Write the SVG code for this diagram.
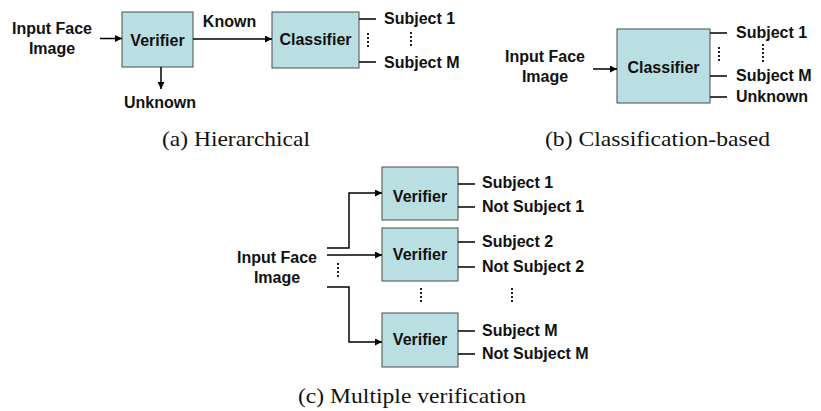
<svg xmlns="http://www.w3.org/2000/svg" width="821" height="411" viewBox="0 0 821 411">
  <defs>
    <marker id="arrow" viewBox="0 0 10 10" refX="10" refY="5" markerWidth="7" markerHeight="7" markerUnits="userSpaceOnUse" orient="auto">
      <path d="M0,0 L10,5 L0,10 z" fill="#000"/>
    </marker>
    <style>
      .box { fill: #b9dfe2; stroke: #4a4a4a; stroke-width: 1; }
      .lbl { font-family: "Liberation Sans", Arial, sans-serif; font-weight: bold; font-size: 16px; fill: #111; }
      .mid { text-anchor: middle; }
      .cap { font-family: "Liberation Serif", "Times New Roman", serif; font-size: 22px; fill: #111; }
      .wire { fill: none; stroke: #000; stroke-width: 1.5; }
      .arr { marker-end: url(#arrow); }
      .dots { fill: none; stroke: #222; stroke-width: 2; stroke-dasharray: 2 2; }
    </style>
  </defs>
  <rect width="821" height="411" fill="#fff"/>

  <!-- (a) Hierarchical -->
  <g id="a-input">
    <text class="lbl mid" x="52" y="33.5">Input Face</text>
    <text class="lbl mid" x="52" y="53.5">Image</text>
  </g>
  <g id="a-verifier">
    <rect class="box" x="122" y="12" width="71" height="55"/>
    <text class="lbl mid" x="157.5" y="46">Verifier</text>
  </g>
  <g id="a-known">
    <text class="lbl mid" x="229.5" y="27">Known</text>
  </g>
  <g id="a-unknown">
    <text class="lbl mid" x="160" y="108">Unknown</text>
  </g>
  <g id="a-classifier">
    <rect class="box" x="272" y="12" width="87" height="56"/>
    <text class="lbl mid" x="315.5" y="44.5">Classifier</text>
  </g>
  <g id="a-outputs">
    <text class="lbl" x="384" y="24">Subject 1</text>
    <text class="lbl" x="384" y="68">Subject M</text>
  </g>

  <!-- (b) Classification-based -->
  <g id="b-input">
    <text class="lbl mid" x="545" y="62">Input Face</text>
    <text class="lbl mid" x="545" y="82">Image</text>
  </g>
  <g id="b-classifier">
    <rect class="box" x="617" y="29" width="93" height="74"/>
    <text class="lbl mid" x="663.5" y="72.5">Classifier</text>
  </g>
  <g id="b-outputs">
    <text class="lbl" x="736" y="38">Subject 1</text>
    <text class="lbl" x="736" y="80.5">Subject M</text>
    <text class="lbl" x="736" y="102">Unknown</text>
  </g>

  <!-- (c) Multiple verification -->
  <g id="c-input">
    <text class="lbl mid" x="277" y="263">Input Face</text>
    <text class="lbl mid" x="277" y="283">Image</text>
  </g>
  <g id="c-verifier-1">
    <rect class="box" x="382" y="167" width="76" height="53"/>
    <text class="lbl mid" x="420" y="202">Verifier</text>
  </g>
  <g id="c-verifier-2">
    <rect class="box" x="382" y="228" width="76" height="53"/>
    <text class="lbl mid" x="420" y="260">Verifier</text>
  </g>
  <g id="c-verifier-m">
    <rect class="box" x="382" y="313" width="76" height="54"/>
    <text class="lbl mid" x="420" y="345">Verifier</text>
  </g>
  <g id="c-outputs">
    <text class="lbl" x="482" y="188">Subject 1</text>
    <text class="lbl" x="482" y="212">Not Subject 1</text>
    <text class="lbl" x="482" y="247">Subject 2</text>
    <text class="lbl" x="482" y="272">Not Subject 2</text>
    <text class="lbl" x="482" y="336">Subject M</text>
    <text class="lbl" x="482" y="359">Not Subject M</text>
  </g>

  <!-- connectors -->
  <g id="connectors">
    <!-- (a) -->
    <path class="wire arr" d="M100,38.5 H122"/>
    <path class="wire arr" d="M193,39 H272"/>
    <path class="wire arr" d="M161,67 V89"/>
    <path class="wire" d="M359,19 H376 M359,62 H376"/>
    <path class="dots" d="M368,33 V48 M411,32 V47"/>
    <!-- (b) -->
    <path class="wire arr" d="M593,69 H617"/>
    <path class="wire" d="M710,33 H727 M710,76 H727 M710,97 H727"/>
    <path class="dots" d="M719,47 V63 M763,44 V62"/>
    <!-- (c) -->
    <path class="wire arr" d="M327,248 H349 V193 H382"/>
    <path class="wire arr" d="M327,255 H382"/>
    <path class="wire arr" d="M327,287 H349 V342 H382"/>
    <path class="dots" d="M338,263 V278"/>
    <path class="wire" d="M458,184 H475 M458,207 H475 M458,242 H475 M458,267 H475 M458,331 H475 M458,354 H475"/>
    <path class="dots" d="M421,288 V304 M512,288 V304"/>
  </g>

  <!-- captions -->
  <g id="captions">
    <text class="cap" x="162" y="146" textLength="148" lengthAdjust="spacingAndGlyphs">(a) Hierarchical</text>
    <text class="cap" x="545" y="146" textLength="225" lengthAdjust="spacingAndGlyphs">(b) Classification-based</text>
    <text class="cap" x="298" y="403" textLength="228" lengthAdjust="spacingAndGlyphs">(c) Multiple verification</text>
  </g>
</svg>
